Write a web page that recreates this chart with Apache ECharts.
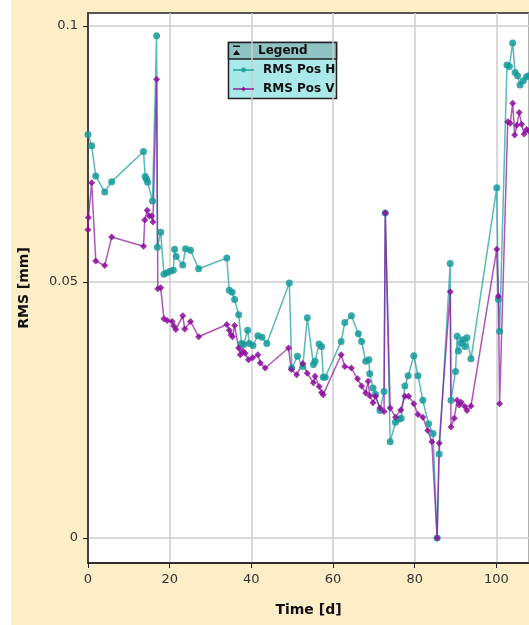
<!DOCTYPE html>
<html>
<head>
<meta charset="utf-8">
<script src="https://cdn.jsdelivr.net/npm/echarts@6/dist/echarts.min.js"></script>
<style>
html,body{margin:0;padding:0;background:#fff;}
#chart{width:529px;height:625px;}
</style>
</head>
<body>
<div id="chart"></div>
<script>
// ---- data ----
const seriesNames = ['RMS Pos H', 'RMS Pos V'];
const xTicks = [0, 20, 40, 60, 80, 100];
const yTicks = [0, 0.05, 0.1];

const timeH = [0, 0.9, 1.9, 4.1, 5.8, 13.6, 14.0, 14.3, 14.6, 15.8, 16.8, 17.0, 17.8, 18.6, 19.3, 20.1, 20.9, 21.2, 21.6, 23.2, 23.9, 25.1, 27.1,
  34.0, 34.6, 35.3, 35.9, 36.9, 37.6, 38.1, 39.1, 39.5, 40.4, 41.6, 42.6, 43.8, 49.3, 49.9, 51.3, 52.6, 53.7, 55.2, 55.6, 56.6, 57.2, 57.6, 58.1,
  62.0, 62.9, 64.5, 66.2, 67.0, 68.0, 68.8, 69.0, 69.8, 70.4, 71.5, 72.5, 72.8, 74.0, 75.3, 76.1, 76.7, 77.6, 78.4, 79.8, 80.8, 82.0, 83.4, 84.5,
  85.5, 86.0, 88.7, 88.9, 90.0, 90.4, 90.7, 91.4, 91.8, 92.3, 92.8, 93.8, 100.1, 100.5, 100.8, 102.6, 103.2, 104.0, 104.6, 105.2, 105.8, 106.6, 107.4, 108.0];
const rmsH = [0.0788, 0.0766, 0.0707, 0.0676, 0.0696, 0.0755, 0.0706, 0.0701, 0.0695, 0.0658, 0.0981, 0.0568, 0.0597, 0.0515, 0.0518, 0.0521, 0.0523, 0.0564, 0.0550, 0.0533, 0.0565, 0.0562, 0.0526,
  0.0547, 0.0484, 0.0480, 0.0466, 0.0436, 0.0380, 0.0378, 0.0406, 0.0380, 0.0376, 0.0395, 0.0392, 0.0380, 0.0498, 0.0332, 0.0355, 0.0335, 0.0430, 0.0339, 0.0345, 0.0379, 0.0374, 0.0314, 0.0314,
  0.0384, 0.0421, 0.0434, 0.0399, 0.0384, 0.0345, 0.0348, 0.0321, 0.0293, 0.0281, 0.0249, 0.0286, 0.0635, 0.0188, 0.0226, 0.0232, 0.0234, 0.0297, 0.0317, 0.0356, 0.0317, 0.0269, 0.0223, 0.0204,
  0.0, 0.0164, 0.0536, 0.0269, 0.0325, 0.0394, 0.0365, 0.0381, 0.0387, 0.0374, 0.0391, 0.0350, 0.0684, 0.0466, 0.0404, 0.0924, 0.0921, 0.0967, 0.0909, 0.0903, 0.0885, 0.0893, 0.0901, 0.0903];

const timeV = [0, 0.1, 0.9, 1.9, 4.1, 5.8, 13.6, 13.9, 14.5, 15.0, 15.6, 15.9, 16.8, 17.1, 17.8, 18.6, 19.4, 20.6, 21.0, 21.5, 23.2, 23.7, 25.1, 27.1,
  34.0, 34.6, 35.0, 35.4, 35.9, 36.9, 37.3, 37.9, 38.5, 39.3, 40.3, 41.6, 42.2, 43.4, 49.1, 49.8, 51.1, 52.6, 53.7, 55.2, 55.6, 56.6, 57.2, 57.6,
  62.0, 62.9, 64.5, 66.0, 67.0, 68.0, 68.6, 69.0, 69.8, 70.4, 71.5, 72.5, 72.8, 74.0, 75.3, 76.6, 77.6, 78.5, 79.8, 80.8, 82.0, 83.2, 84.2,
  85.5, 86.0, 88.7, 88.9, 89.7, 90.4, 90.9, 91.4, 92.3, 92.8, 93.8, 100.1, 100.5, 100.8, 102.8, 103.4, 104.0, 104.5, 105.0, 105.6, 106.2, 106.8, 107.4, 108.0];
const rmsV = [0.0602, 0.0626, 0.0694, 0.0541, 0.0532, 0.0588, 0.0570, 0.0621, 0.0640, 0.0629, 0.0629, 0.0617, 0.0896, 0.0487, 0.0489, 0.0428, 0.0425, 0.0423, 0.0414, 0.0407, 0.0434, 0.0408, 0.0423, 0.0393,
  0.0417, 0.0406, 0.0397, 0.0393, 0.0415, 0.0371, 0.0358, 0.0365, 0.0361, 0.0348, 0.0352, 0.0358, 0.0342, 0.0332, 0.0371, 0.0329, 0.0319, 0.0341, 0.0322, 0.0303, 0.0316, 0.0296, 0.0284, 0.0280,
  0.0358, 0.0335, 0.0332, 0.0311, 0.0297, 0.0283, 0.0306, 0.0278, 0.0264, 0.0277, 0.0254, 0.0247, 0.0635, 0.0254, 0.0236, 0.0250, 0.0277, 0.0277, 0.0262, 0.0241, 0.0236, 0.0210, 0.0188,
  0.0, 0.0185, 0.0481, 0.0217, 0.0234, 0.0269, 0.0260, 0.0265, 0.0257, 0.0249, 0.0258, 0.0564, 0.0472, 0.0262, 0.0813, 0.0810, 0.0849, 0.0787, 0.0806, 0.0831, 0.0808, 0.0789, 0.0798, 0.0795];

// ---- chart ----
const teal = '#169a9a';
const purple = '#8c0e9c';
const font = '"DejaVu Sans", sans-serif';
const xMin = xTicks[0], xMax = 108, xStep = xTicks[1] - xTicks[0];
const yMin = yTicks[0], yMax = yTicks[yTicks.length - 1], yStep = yTicks[1] - yTicks[0];

const chart = echarts.init(document.getElementById('chart'), null, {renderer: 'canvas'});

const pairs = (xs, ys) => xs.map((x, i) => [x, ys[i]]);

chart.setOption({
  animation: false,
  backgroundColor: 'transparent',
  graphic: [
    {type: 'rect', z: -10, silent: true, shape: {x: 11, y: 0, width: 518, height: 625}, style: {fill: '#fdeec8'}},
    {type: 'group', z: 3, children: [
      {type: 'rect', shape: {x: 228.5, y: 42.5, width: 108, height: 56}, style: {fill: '#aae9e9', stroke: '#222', lineWidth: 1.5}},
      {type: 'rect', shape: {x: 228.5, y: 42.5, width: 108, height: 16.5}, style: {fill: '#8fc3c3', stroke: '#222', lineWidth: 1.5}},
      {type: 'rect', shape: {x: 233, y: 45.5, width: 7, height: 1.5}, style: {fill: '#111'}},
      {type: 'polygon', shape: {points: [[233, 55], [240, 55], [236.5, 50]]}, style: {fill: '#111'}},
      {type: 'text', style: {x: 258, y: 51, text: 'Legend', font: 'bold 12px ' + font, fill: '#111', verticalAlign: 'middle'}}
    ]}
  ],
  legend: {
    orient: 'vertical',
    left: 232,
    top: 64,
    itemWidth: 21,
    itemHeight: 6,
    itemGap: 7,
    padding: 0,
    textStyle: {fontFamily: font, fontWeight: 'bold', fontSize: 12, color: '#111', padding: [0, 0, 0, 4]},
    data: seriesNames
  },
  grid: [
    {left: 88, top: 13, right: -2, bottom: 62, show: true, backgroundColor: '#ffffff', borderColor: '#222', borderWidth: 1.5},
    {left: 88, top: 26, right: -2, bottom: 87}
  ],
  xAxis: [
    {
      gridIndex: 0, type: 'value', min: xMin, max: xMax, interval: xStep,
      name: 'Time [d]', nameLocation: 'middle', nameGap: 40,
      nameTextStyle: {fontFamily: font, fontWeight: 'bold', fontSize: 14, color: '#111'},
      axisLine: {show: true, lineStyle: {color: '#222', width: 1.5}},
      axisTick: {show: true, inside: false, length: 5, lineStyle: {color: '#222'}},
      axisLabel: {fontFamily: font, fontSize: 13, color: '#333', margin: 10, showMaxLabel: false},
      splitLine: {show: true, lineStyle: {color: '#cccccc', width: 1.5}}
    },
    {gridIndex: 1, type: 'value', min: xMin, max: xMax, show: false}
  ],
  yAxis: [
    {
      gridIndex: 0, type: 'value', min: 0, max: 1,
      name: 'RMS [mm]', nameLocation: 'middle', nameGap: 57, nameRotate: 90,
      nameTextStyle: {fontFamily: font, fontWeight: 'bold', fontSize: 14, color: '#111'},
      axisLine: {show: true, lineStyle: {color: '#222', width: 1.5}},
      axisTick: {show: false}, axisLabel: {show: false}, splitLine: {show: false}
    },
    {
      gridIndex: 1, type: 'value', min: yMin, max: yMax, interval: yStep,
      axisLine: {show: false},
      axisTick: {show: true, inside: false, length: 5, lineStyle: {color: '#222'}},
      axisLabel: {fontFamily: font, fontSize: 13, color: '#333', margin: 10},
      splitLine: {show: true, lineStyle: {color: '#cccccc', width: 1.5}}
    }
  ],
  series: [
    {
      name: seriesNames[0], type: 'line', xAxisIndex: 1, yAxisIndex: 1, clip: false,
      data: pairs(timeH, rmsH),
      symbol: 'circle', symbolSize: 7,
      itemStyle: {color: teal, opacity: 0.85},
      lineStyle: {color: teal, width: 1.5, opacity: 0.7}
    },
    {
      name: seriesNames[1], type: 'line', xAxisIndex: 1, yAxisIndex: 1, clip: false,
      data: pairs(timeV, rmsV),
      symbol: 'diamond', symbolSize: 7,
      itemStyle: {color: purple, opacity: 0.85},
      lineStyle: {color: purple, width: 1.5, opacity: 0.7}
    }
  ]
});
</script>
</body>
</html>
